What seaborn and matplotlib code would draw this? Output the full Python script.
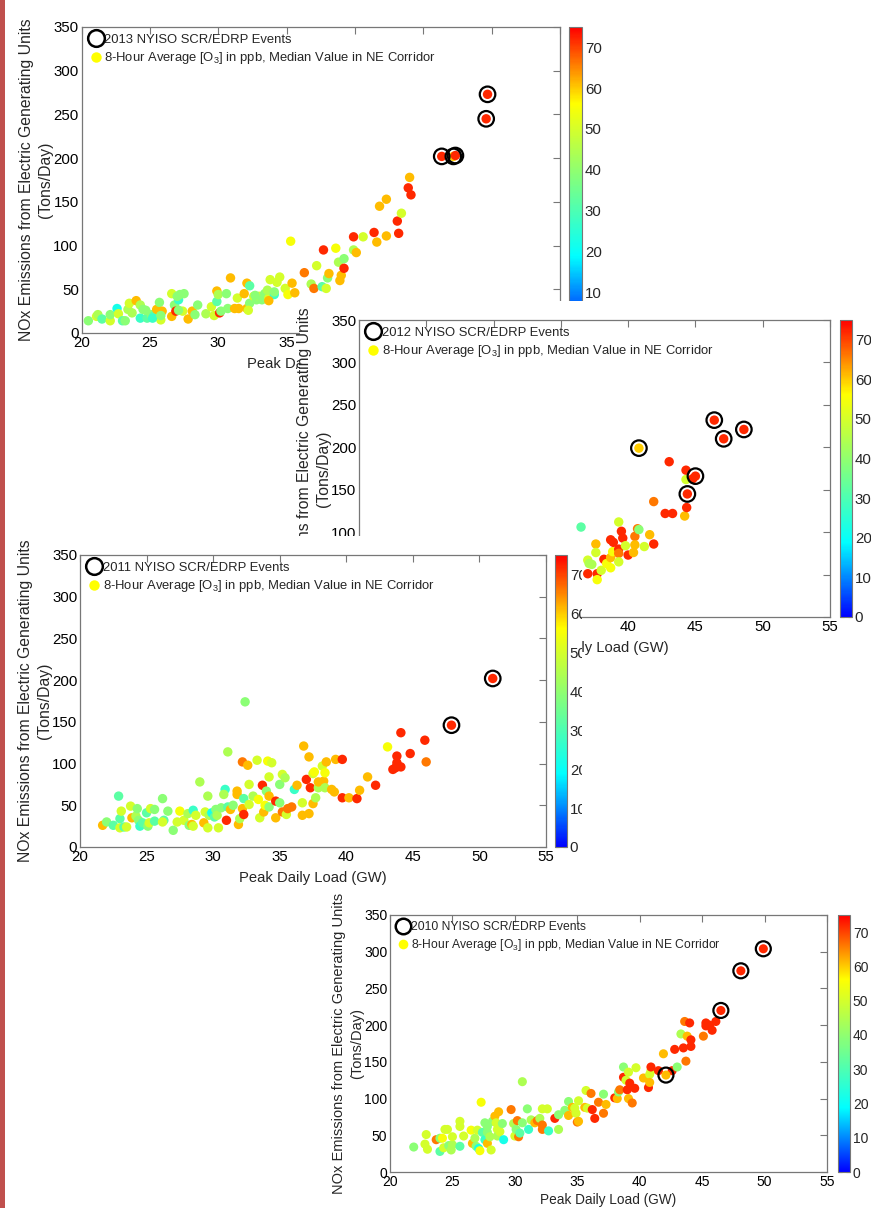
import numpy as np
import pandas as pd
import matplotlib
matplotlib.use('Agg')
import matplotlib.pyplot as plt
import seaborn as sns
from matplotlib.colors import LinearSegmentedColormap, Normalize
from matplotlib.cm import ScalarMappable
from matplotlib.lines import Line2D
from matplotlib.patches import Rectangle
from matplotlib.transforms import Bbox, TransformedBbox

# ---- data: (peak load GW, NOx tons/day, ozone ppb) ----
load_2013 = [20.5, 21.1, 21.2, 21.5, 22.1, 22.1, 22.6, 22.7, 23.0, 23.2, 23.4, 23.5, 23.7, 24.0, 24.3, 24.3,
             24.5, 24.8, 25.1, 25.3, 25.5, 25.7, 25.8, 25.9, 26.6, 26.6, 26.8, 26.9, 27.1, 27.2, 27.5, 27.4,
             27.8, 28.1, 28.3, 28.5, 29.1, 29.5, 29.7, 29.9, 29.9, 30.0, 30.1, 30.2, 30.6, 30.7, 30.9, 31.2,
             31.4, 31.9, 32.1, 32.1, 32.3, 32.3, 32.6, 32.8, 33.0, 33.2, 33.4, 33.7, 33.8, 34.1, 34.3, 34.5,
             34.9, 35.1, 35.4, 35.3, 35.6, 36.3, 36.8, 37.0, 37.2, 37.7, 37.6, 37.9, 38.0, 38.1, 38.6, 38.8,
             38.9, 39.0, 39.2, 39.2, 39.9, 40.1, 39.9, 40.6, 41.4, 41.6, 41.8, 42.3, 42.3, 43.1, 43.2, 43.4,
             43.9, 44.0, 44.1, 24.7, 25.2, 25.8, 27.0, 27.1, 31.5, 32.2, 32.7, 33.6, 33.7, 34.1]
nox_2013 = [14, 19, 21, 16, 14, 21, 28, 22, 14, 14, 27, 34, 23, 37, 32, 17,
            27, 17, 21, 20, 27, 35, 15, 25, 45, 19, 32, 25, 38, 44, 45, 25,
            16, 25, 21, 32, 22, 30, 20, 48, 36, 44, 23, 25, 45, 28, 63, 28,
            40, 45, 57, 28, 54, 34, 42, 38, 42, 38, 45, 40, 61, 44, 58, 64,
            51, 44, 57, 105, 46, 69, 56, 51, 77, 95, 53, 51, 63, 68, 97, 81,
            60, 66, 85, 74, 95, 92, 110, 110, 115, 104, 145, 153, 111, 128, 114, 137,
            166, 178, 158, 26, 17, 20, 42, 26, 28, 26, 43, 49, 37, 47]
o3_2013 = [39, 50, 44, 32, 50, 39, 22, 50, 32, 39, 44, 50, 44, 61, 44, 27,
           39, 32, 39, 32, 61, 39, 50, 61, 50, 61, 39, 72, 27, 39, 39, 50,
           61, 61, 39, 39, 44, 50, 50, 61, 32, 44, 72, 39, 39, 39, 61, 61,
           50, 61, 61, 61, 32, 39, 50, 39, 50, 39, 39, 50, 50, 27, 50, 50,
           50, 55, 61, 55, 61, 66, 44, 66, 50, 72, 32, 50, 39, 61, 55, 44,
           61, 61, 39, 72, 44, 61, 72, 50, 72, 61, 61, 61, 61, 72, 72, 50,
           72, 61, 72, 39, 27, 39, 39, 39, 61, 50, 39, 44, 61, 39]
ev_load_2013 = [46.35, 47.2, 47.35, 49.6, 49.7]
ev_nox_2013 = [202, 202, 203, 245, 273]
ev_o3_2013 = [72, 60, 72, 72, 72]

load_2012 = [36.5, 37.0, 37.0, 37.1, 37.3, 37.6, 37.6, 37.7, 37.7, 38.0, 38.2, 38.4, 38.7, 38.7, 38.85, 38.7,
             38.9, 39.3, 39.3, 39.3, 39.3, 39.5, 39.6, 39.8, 40.0, 40.4, 40.5, 40.5, 40.7, 40.8, 41.2, 41.6,
             41.9, 41.9, 42.75, 43.3, 43.05, 44.2, 44.35, 44.3, 44.3, 44.8]
nox_2012 = [106, 51, 67, 63, 62, 86, 76, 51, 44, 55, 68, 63, 58, 70, 77, 91,
            88, 112, 80, 75, 65, 101, 93, 84, 73, 76, 95, 85, 104, 103, 83, 97,
            136, 86, 122, 122, 183, 119, 129, 173, 162, 163]
o3_2012 = [32, 72, 50, 44, 44, 61, 50, 72, 55, 50, 72, 55, 55, 61, 55, 72,
           72, 50, 72, 66, 50, 72, 72, 50, 72, 61, 66, 61, 66, 39, 50, 61,
           66, 72, 72, 72, 72, 61, 72, 72, 50, 72]
ev_load_2012 = [40.8, 44.4, 45.0, 46.4, 47.1, 48.6]
ev_nox_2012 = [199, 145, 166, 232, 210, 221]
ev_o3_2012 = [60, 72, 72, 72, 72, 72]

load_2011 = [21.7, 22.0, 22.5, 22.9, 23.0, 23.1, 23.0, 23.3, 23.5, 23.8, 23.9, 24.2, 24.3, 24.4, 24.5, 24.7,
             25.0, 25.1, 25.2, 25.3, 25.6, 25.6, 26.2, 26.3, 26.2, 26.6, 27.0, 27.3, 27.5, 27.8, 28.1, 28.2,
             28.4, 28.5, 28.5, 28.7, 29.0, 29.3, 29.4, 29.6, 29.6, 29.7, 29.9, 30.1, 30.2, 30.3, 30.4, 30.6,
             30.9, 30.8, 31.0, 31.1, 31.3, 31.1, 31.5, 31.8, 31.8, 31.9, 32.0, 32.2, 32.2, 32.3, 32.4, 32.3,
             32.6, 32.7, 32.7, 33.0, 33.3, 33.4, 33.5, 33.7, 33.8, 33.9, 34.0, 34.1, 34.2, 34.2, 34.2, 34.4,
             34.7, 34.7, 35.0, 35.0, 35.2, 35.2, 35.4, 35.5, 35.6, 35.9, 36.1, 36.3, 36.7, 36.7, 36.8, 37.0,
             37.2, 37.2, 37.3, 37.5, 37.5, 37.6, 37.7, 37.9, 37.9, 38.2, 38.3, 38.4, 38.5, 38.4, 38.9, 39.1,
             39.2, 39.7, 39.7, 40.2, 40.8, 41.0, 41.6, 42.2, 43.1, 43.5, 43.8, 43.8, 43.7, 44.1, 44.1, 44.8,
             45.9, 46.0]
nox_2011 = [26, 30, 26, 61, 34, 43, 23, 24, 24, 49, 35, 37, 46, 32, 25, 29,
            41, 25, 29, 46, 31, 45, 58, 32, 30, 43, 20, 30, 43, 32, 40, 26,
            27, 25, 44, 38, 78, 29, 42, 61, 23, 38, 41, 36, 45, 38, 23, 47,
            69, 63, 32, 48, 45, 114, 50, 67, 63, 27, 34, 102, 46, 58, 174, 39,
            98, 75, 51, 61, 104, 57, 35, 74, 42, 50, 67, 103, 84, 61, 48, 101,
            35, 55, 75, 53, 87, 42, 83, 39, 46, 48, 69, 74, 53, 38, 121, 81,
            108, 40, 71, 52, 88, 90, 59, 71, 78, 97, 79, 89, 102, 71, 69, 66,
            105, 105, 59, 59, 58, 68, 84, 74, 120, 93, 109, 101, 95, 96, 137, 112,
            128, 102]
o3_2011 = [61, 39, 32, 32, 32, 50, 50, 32, 50, 50, 61, 44, 39, 39, 27, 32,
           32, 39, 50, 50, 32, 39, 39, 32, 50, 39, 39, 50, 55, 50, 44, 39,
           61, 50, 27, 50, 44, 61, 50, 44, 50, 44, 22, 32, 39, 44, 50, 39,
           27, 44, 72, 32, 61, 44, 39, 61, 61, 61, 44, 66, 61, 32, 39, 72,
           61, 50, 50, 44, 50, 55, 50, 72, 61, 55, 39, 55, 50, 61, 39, 50,
           61, 72, 39, 39, 50, 66, 44, 50, 66, 66, 27, 61, 50, 61, 61, 72,
           61, 61, 72, 61, 50, 55, 44, 44, 61, 50, 61, 55, 61, 44, 61, 61,
           61, 72, 72, 61, 72, 61, 61, 72, 55, 72, 72, 72, 72, 72, 72, 72,
           72, 66]
ev_load_2011 = [47.9, 51.0]
ev_nox_2011 = [146, 202]
ev_o3_2011 = [72, 72]

load_2010 = [21.9, 22.9, 22.8, 23.0, 23.7, 24.0, 24.0, 24.2, 24.3, 24.4, 24.6, 24.7, 24.9, 25.0, 25.0, 25.6,
             25.6, 25.6, 25.9, 26.5, 26.6, 26.8, 27.0, 26.9, 27.1, 27.2, 27.3, 27.4, 27.6, 27.6, 27.8, 27.8,
             27.8, 28.0, 28.1, 28.2, 28.4, 28.5, 28.6, 28.7, 28.6, 28.8, 29.0, 29.1, 29.7, 29.9, 30.0, 30.1,
             30.2, 30.3, 30.4, 30.6, 30.6, 31.0, 31.1, 31.3, 31.6, 31.8, 32.0, 32.2, 32.2, 32.2, 32.6, 32.7,
             33.2, 33.5, 33.5, 34.0, 34.3, 34.3, 34.6, 34.8, 34.9, 35.0, 35.1, 35.1, 35.6, 35.8, 35.7, 36.1,
             36.2, 36.4, 36.7, 37.1, 37.1, 37.3, 38.0, 38.2, 38.3, 38.4, 38.7, 38.7, 38.9, 39.0, 39.1, 39.1,
             39.2, 39.4, 39.6, 39.7, 40.3, 40.7, 40.8, 40.8, 40.9, 40.9, 41.5, 41.9, 42.6, 42.8, 43.0, 43.3,
             43.5, 43.6, 43.7, 43.8, 44.0, 44.1, 44.1, 45.1, 45.3, 45.3, 45.6, 45.8, 46.1]
nox_2010 = [34, 51, 38, 31, 44, 46, 28, 46, 33, 58, 58, 36, 30, 37, 48, 35,
            69, 62, 49, 57, 39, 46, 57, 35, 32, 29, 95, 54, 67, 44, 54, 62,
            39, 48, 30, 69, 76, 67, 58, 82, 49, 55, 66, 44, 85, 66, 49, 58,
            70, 48, 53, 67, 123, 86, 58, 71, 67, 70, 73, 64, 58, 86, 86, 56,
            73, 78, 58, 84, 96, 77, 88, 87, 80, 68, 69, 97, 88, 87, 111, 107,
            85, 73, 95, 80, 106, 92, 101, 100, 109, 112, 143, 129, 125, 112, 136, 100,
            121, 94, 114, 142, 128, 115, 133, 122, 138, 143, 138, 161, 138, 167, 143, 188,
            169, 205, 151, 185, 203, 180, 171, 185, 203, 199, 200, 193, 205]
o3_2010 = [39, 50, 50, 50, 66, 39, 32, 55, 50, 50, 50, 39, 44, 44, 50, 32,
           50, 50, 50, 55, 61, 44, 50, 39, 22, 55, 55, 32, 39, 27, 39, 39,
           61, 44, 50, 39, 61, 50, 50, 61, 44, 50, 39, 22, 66, 44, 50, 39,
           66, 66, 32, 39, 44, 39, 27, 44, 61, 66, 44, 66, 66, 50, 50, 27,
           72, 39, 44, 39, 39, 61, 61, 50, 50, 66, 61, 50, 61, 50, 50, 66,
           72, 72, 66, 66, 39, 61, 72, 61, 39, 66, 39, 72, 50, 72, 50, 61,
           72, 66, 72, 50, 61, 72, 50, 61, 50, 72, 72, 61, 72, 72, 39, 44,
           72, 66, 66, 61, 72, 72, 72, 66, 72, 72, 72, 72, 72]
ev_load_2010 = [42.1, 46.5, 48.1, 49.9]
ev_nox_2010 = [132, 220, 274, 304]
ev_o3_2010 = [61, 72, 72, 72]

W, H = 871, 1208

sns.set_style('white')
plt.rcParams['font.family'] = ['Liberation Sans', 'DejaVu Sans']
plt.rcParams['mathtext.default'] = 'regular'

# jet without its dark ends: blue -> cyan -> green -> yellow -> red
cmap = LinearSegmentedColormap.from_list(
    'jet_mid', [(0, 0, 1), (0, 1, 1), (0.5, 1, 0.5), (1, 1, 0), (1, 0, 0)])
norm = Normalize(0, 75)

fig = plt.figure(figsize=(W / 100, H / 100), dpi=100)
fig.patch.set_facecolor('white')


def rect(l, t, r, b):
    return [l / W, 1 - b / H, (r - l) / W, (b - t) / H]


def panel(year, load, nox, o3, ev_load, ev_nox, ev_o3, ax_px, cb_px, z,
          region=None, cb_clip=None, k=1.0, xpad=5):
    if region is not None:
        l, t, r, b = region
        fig.add_artist(Rectangle((l / W, 1 - b / H), (r - l) / W, (b - t) / H,
                                 transform=fig.transFigure, facecolor='white',
                                 edgecolor='none', zorder=z))
    ax = fig.add_axes(rect(*ax_px), zorder=z + 1)
    df = pd.DataFrame({'load': load, 'nox': nox, 'o3': o3})
    ev = pd.DataFrame({'load': ev_load, 'nox': ev_nox, 'o3': ev_o3})
    sns.scatterplot(data=df, x='load', y='nox', hue='o3', palette=cmap, hue_norm=norm,
                    s=46 * k, linewidth=0, legend=False, ax=ax)
    sns.scatterplot(data=ev, x='load', y='nox', hue='o3', palette=cmap, hue_norm=norm,
                    s=46 * k, linewidth=0, legend=False, ax=ax)
    ax.scatter(ev['load'], ev['nox'], s=125 * k, facecolors='none', edgecolors='black',
               linewidths=1.6)

    ax.set_xlim(20, 55)
    ax.set_ylim(0, 350)
    ax.set_xticks(range(20, 56, 5))
    ax.set_yticks(range(0, 351, 50))
    ax.tick_params(direction='in', top=True, right=True, length=5, width=0.8, color='#777777',
                   labelsize=10.8 * k, pad=2, labelcolor='black')
    for sp in ax.spines.values():
        sp.set_color('#777777')
        sp.set_linewidth(0.9)
    ax.set_xlabel('Peak Daily Load (GW)', fontsize=10.6 * k, labelpad=xpad)
    ax.set_ylabel('NOx Emissions from Electric Generating Units\n(Tons/Day)',
                  fontsize=11.3 * k, labelpad=0, linespacing=1.35)

    handles = [Line2D([], [], marker='o', ls='none', mfc='none', mec='black', mew=1.8, ms=12 * k),
               Line2D([], [], marker='o', ls='none', mfc=(1, 1, 0), mec='none', ms=7.5 * k)]
    labels = ['{} NYISO SCR/EDRP Events'.format(year),
              '8-Hour Average [O$_3$] in ppb, Median Value in NE Corridor']
    ax.legend(handles, labels, loc='upper left', frameon=False, fontsize=9.4 * k,
              handletextpad=0.05, handlelength=1.2, borderaxespad=0.3, borderpad=0.2,
              labelspacing=0.35)

    cax = fig.add_axes(rect(*cb_px), zorder=z + 1)
    cb = fig.colorbar(ScalarMappable(norm=norm, cmap=cmap), cax=cax)
    cb.set_ticks(range(0, 71, 10))
    cax.tick_params(direction='in', length=3, width=0.8, color='#555555', labelsize=10.8 * k,
                    pad=2, left=True, right=True)
    cb.outline.set_edgecolor('#777777')
    cb.outline.set_linewidth(0.8)
    if cb_clip is not None:
        l, t, r, b = cb_clip
        bb = TransformedBbox(Bbox.from_extents(l / W, 1 - b / H, r / W, 1 - t / H), fig.transFigure)
        for tk in cax.yaxis.get_major_ticks():
            for lab in (tk.label1, tk.label2):
                lab.set_clip_box(bb)
                lab.set_clip_on(True)
    return ax


panel(2013, load_2013, nox_2013, o3_2013, ev_load_2013, ev_nox_2013, ev_o3_2013,
      (81.5, 27, 560, 333), (569, 27, 582, 333), z=1)
panel(2012, load_2012, nox_2012, o3_2012, ev_load_2012, ev_nox_2012, ev_o3_2012,
      (359, 320, 830, 617), (840, 320, 852, 617), z=4, region=(300, 301, 871, 690))
panel(2011, load_2011, nox_2011, o3_2011, ev_load_2011, ev_nox_2011, ev_o3_2011,
      (80, 555, 546, 847), (555, 555, 567, 847), z=7, region=(0, 536, 581, 900),
      cb_clip=(0, 536, 582, 900))
panel(2010, load_2010, nox_2010, o3_2010, ev_load_2010, ev_nox_2010, ev_o3_2010,
      (390, 915, 827, 1172), (838, 915, 850, 1172), z=10, region=(330, 895, 871, 1208),
      k=0.93, xpad=3)

# red strip along the left edge
fig.add_artist(Rectangle((0, 0), 4.5 / W, 1, transform=fig.transFigure,
                         facecolor='#C0504D', edgecolor='none', zorder=20))

fig.savefig('out.png', dpi=100, facecolor='white')
